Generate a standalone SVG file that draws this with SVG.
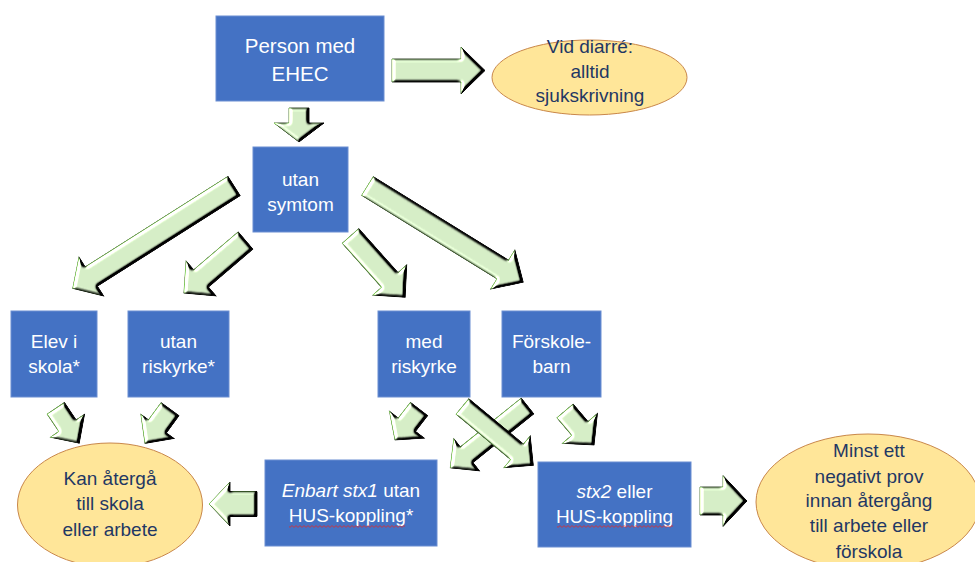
<svg xmlns="http://www.w3.org/2000/svg" width="975" height="562" viewBox="0 0 975 562">
<defs>
<style>
.box{fill:#4472c4;stroke:#6a8ed2;stroke-width:1}
.ell{fill:#ffe699;stroke:#c9874a;stroke-width:1}
.bt{font-family:"Liberation Sans",Arial,sans-serif;font-size:19px;fill:#ffffff;text-anchor:middle}
.et{font-family:"Liberation Sans",Arial,sans-serif;font-size:19px;fill:#1f3864;text-anchor:middle}
.it{font-style:italic}
.arr{fill:#d7efc8;stroke:#4f7a38;stroke-width:1}
.sq{fill:url(#squig)}
</style>
<filter id="bev" x="-20%" y="-20%" width="140%" height="140%" color-interpolation-filters="sRGB">
<feGaussianBlur in="SourceAlpha" stdDeviation="1.8" result="b"/>
<feDiffuseLighting in="b" surfaceScale="6" diffuseConstant="1" lighting-color="#ffffff" result="d"><feDistantLight azimuth="195" elevation="35"/></feDiffuseLighting>
<feComposite in="SourceGraphic" in2="d" operator="arithmetic" k1="1.74" k2="0" k3="0" k4="0" result="lit"/>
<feComposite in="lit" in2="SourceAlpha" operator="in"/>
</filter>
<pattern id="squig" x="0" y="0" width="4" height="3" patternUnits="userSpaceOnUse">
<path d="M0,0.6 L2,2.4 L4,0.6" fill="none" stroke="#e02a2a" stroke-width="0.8"/>
</pattern>
</defs>
<rect width="975" height="562" fill="#ffffff"/>

<g id="connectors">
<g id="c-person-diarre" filter="url(#bev)"><path class="arr" transform="translate(392,70.5)" d="M0,-11.5H69V-23.5L93,0L69,23.5V11.5H0Z"/></g>
<g id="c-person-utan" filter="url(#bev)"><path class="arr" transform="translate(299,108) rotate(90)" d="M0,-10H15V-25L34,0L15,25V10H0Z"/></g>
<g id="c-utan-elev" filter="url(#bev)"><path class="arr" transform="translate(234,186) rotate(147.6)" d="M0,-11.4H169V-23L191,0L169,23V11.4H0Z"/></g>
<g id="c-utan-utanrisk" filter="url(#bev)"><path class="arr" transform="translate(245.5,240.5) rotate(139.5)" d="M0,-11.3H58.5V-23L81,0L58.5,23V11.3H0Z"/></g>
<g id="c-utan-medrisk" filter="url(#bev)"><path class="arr" transform="translate(350.5,236) rotate(48.2)" d="M0,-11H59V-22.7L82,0L59,22.7V11H0Z"/></g>
<g id="c-utan-forskole" filter="url(#bev)"><path class="arr" transform="translate(367.5,186) rotate(31.7)" d="M0,-11H159V-23L183,0L159,23V11H0Z"/></g>
<g id="c-elev-kan" filter="url(#bev)"><path class="arr" transform="translate(55.8,408.3) rotate(56.1)" d="M0,-10.4H21V-20.5L42,0L21,20.5V10.4H0Z"/></g>
<g id="c-utanrisk-kan" filter="url(#bev)"><path class="arr" transform="translate(170,409.2) rotate(126.2)" d="M0,-11H21.3V-20.5L42.3,0L21.3,20.5V11H0Z"/></g>
<g id="c-medrisk-enbart" filter="url(#bev)"><path class="arr" transform="translate(419,409) rotate(127.7)" d="M0,-10.8H19.9V-22L39.2,0L19.9,22V10.8H0Z"/></g>
<g id="c-forskole-stx2" filter="url(#bev)"><path class="arr" transform="translate(565,411) rotate(49.5)" d="M0,-10.6H23V-23L44.7,0L23,23V10.6H0Z"/></g>
<g id="c-forskole-enbart" filter="url(#bev)"><path class="arr" transform="translate(527.5,406) rotate(141.3)" d="M0,-10H78V-20.5L99,0L78,20.5V10H0Z"/></g>
<g id="c-medrisk-stx2" filter="url(#bev)"><path class="arr" transform="translate(462.5,406.5) rotate(39.7)" d="M0,-10H71V-20.5L92,0L71,20.5V10H0Z"/></g>
<g id="c-enbart-kan" filter="url(#bev)"><path class="arr" transform="translate(257,504) rotate(180)" d="M0,-12.5H27V-22L48,0L27,22V12.5H0Z"/></g>
<g id="c-stx2-minst" filter="url(#bev)"><path class="arr" transform="translate(700,501)" d="M0,-14H23V-25.5L47,0L23,25.5V14H0Z"/></g>
</g>

<g id="n-person">
<rect class="box" x="216" y="16" width="168" height="85"/>
<text class="bt" x="300" y="53" style="font-size:20.5px">Person med</text>
<text class="bt" x="300" y="81" style="font-size:20.5px">EHEC</text>
</g>
<g id="n-diarre">
<ellipse class="ell" cx="589.5" cy="77.5" rx="97.5" ry="37.5"/>
<text class="et" x="590" y="53">Vid diarré:</text>
<text class="et" x="590" y="78">alltid</text>
<text class="et" x="590" y="102">sjukskrivning</text>
</g>
<g id="n-utansymtom">
<rect class="box" x="253" y="147" width="95" height="85"/>
<text class="bt" x="300.5" y="186">utan</text>
<text class="bt" x="300.5" y="211">symtom</text>
</g>
<g id="n-elev">
<rect class="box" x="11" y="311" width="86" height="86"/>
<text class="bt" x="54" y="348">Elev i</text>
<text class="bt" x="54" y="373">skola*</text>
</g>
<g id="n-utanrisk">
<rect class="box" x="128" y="311" width="101" height="86"/>
<text class="bt" x="178.5" y="348">utan</text>
<text class="bt" x="178.5" y="373">riskyrke*</text>
</g>
<g id="n-medrisk">
<rect class="box" x="378" y="311" width="92" height="86"/>
<text class="bt" x="424" y="348">med</text>
<text class="bt" x="424" y="373">riskyrke</text>
</g>
<g id="n-forskole">
<rect class="box" x="502" y="311" width="99" height="86"/>
<text class="bt" x="551.5" y="348">Förskole-</text>
<text class="bt" x="551.5" y="373">barn</text>
</g>
<g id="n-kan">
<ellipse class="ell" cx="110" cy="505" rx="92.5" ry="62"/>
<text class="et" x="110" y="485">Kan återgå</text>
<text class="et" x="110" y="510">till skola</text>
<text class="et" x="110" y="536">eller arbete</text>
</g>
<g id="n-enbart">
<rect class="box" x="265" y="460" width="172" height="86"/>
<text class="bt" x="351" y="497"><tspan class="it">Enbart stx1</tspan> utan</text>
<text class="bt" x="351" y="522">HUS-koppling*</text>
<rect class="sq" x="289" y="525" width="116" height="3"/>
</g>
<g id="n-stx2">
<rect class="box" x="538" y="462" width="153" height="85"/>
<text class="bt" x="614.5" y="498"><tspan class="it">stx2</tspan> eller</text>
<text class="bt" x="614.5" y="523">HUS-koppling</text>
<rect class="sq" x="557" y="525" width="116" height="3"/>
</g>
<g id="n-minst">
<ellipse class="ell" cx="868" cy="502" rx="112" ry="68"/>
<text class="et" x="869" y="457">Minst ett</text>
<text class="et" x="869" y="483">negativt prov</text>
<text class="et" x="869" y="507">innan återgång</text>
<text class="et" x="869" y="532">till arbete eller</text>
<text class="et" x="869" y="558">förskola</text>
</g>
</svg>
